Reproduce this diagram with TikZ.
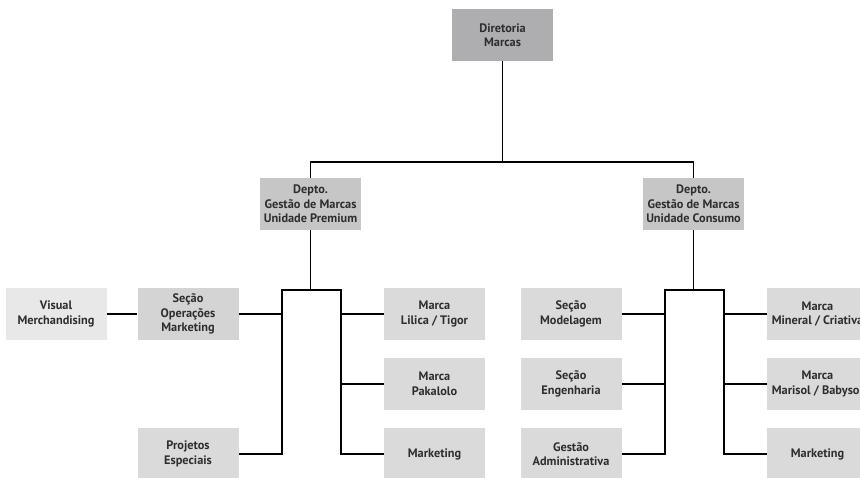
\documentclass[tikz,border=0pt]{standalone}
\usepackage{fontspec}
\setmainfont{PT Sans}
\usepackage{xcolor}
\usetikzlibrary{positioning}
\definecolor{boxtop}{HTML}{AEAEB0}
\definecolor{boxdept}{HTML}{C6C6C6}
\definecolor{boxsec}{HTML}{D4D4D4}
\definecolor{boxunit}{HTML}{DADADA}
\definecolor{boxlight}{HTML}{E8E8E8}
\definecolor{txt}{HTML}{2E2E30}

\begin{document}
\begin{tikzpicture}[x=1pt,y=-1pt,
  unit/.style={fill=boxunit,minimum width=101pt,minimum height=52pt,inner sep=0pt,align=center,
    text=txt,font=\fontsize{12.3}{14.5}\selectfont\bfseries},
  link/.style={line width=1.8pt,black}]
\useasboundingbox (0,0) rectangle (860,477);
\clip (0,0) rectangle (860,477);
% topo
\node[unit,fill=boxtop] (dir) at (502.5,35) {Diretoria\\Marcas};
\node[unit,fill=boxdept] (prem) at (310.5,204) {Depto.\\Gestão de Marcas\\Unidade Premium};
\node[unit,fill=boxdept] (cons) at (693.5,204) {Depto.\\Gestão de Marcas\\Unidade Consumo};
% premium
\node[unit,fill=boxlight] (vis) at (56,314) {Visual\\Merchandising};
\node[unit,fill=boxsec] (secop) at (188,314) {Seção\\Operações\\Marketing};
\node[unit] (proj) at (188,454) {Projetos\\Especiais};
\node[unit] (lilica) at (434.5,314) {Marca\\Lilica / Tigor};
\node[unit] (paka) at (434.5,384) {Marca\\Pakalolo};
\node[unit] (mktp) at (434.5,454) {Marketing};
% consumo
\node[unit] (model) at (571,314) {Seção\\Modelagem};
\node[unit] (engen) at (571,384) {Seção\\Engenharia};
\node[unit] (gestadm) at (571,454) {Gestão\\Administrativa};
\node[unit] (miner) at (817.5,314) {Marca\\Mineral / Criativa};
\node[unit] (marisol) at (817.5,384) {Marca\\Marisol / Babysol};
\node[unit] (mktc) at (817.5,454) {Marketing};
% barras
\coordinate (pl) at (282,290);
\coordinate (pr) at (341,290);
\coordinate (cl) at (665,290);
\coordinate (cr) at (724,290);
\draw[link] (dir.south) -- ++(0,101);
\draw[link] (prem.north) -- ++(0,-16) -| (cons.north);
\draw[link] (prem.south) -- (prem.south |- pl);
\draw[link] (proj.east) -| (pl) -- (pr) |- (mktp.west);
\draw[link] (secop.east) -- (secop.east -| pl);
\draw[link] (vis) -- (secop);
\draw[link] (lilica.west) -- (lilica.west -| pr);
\draw[link] (paka.west) -- (paka.west -| pr);
\draw[link] (cons.south) -- (cons.south |- cl);
\draw[link] (gestadm.east) -| (cl) -- (cr) |- (mktc.west);
\draw[link] (model.east) -- (model.east -| cl);
\draw[link] (engen.east) -- (engen.east -| cl);
\draw[link] (miner.west) -- (miner.west -| cr);
\draw[link] (marisol.west) -- (marisol.west -| cr);
\end{tikzpicture}
\end{document}
